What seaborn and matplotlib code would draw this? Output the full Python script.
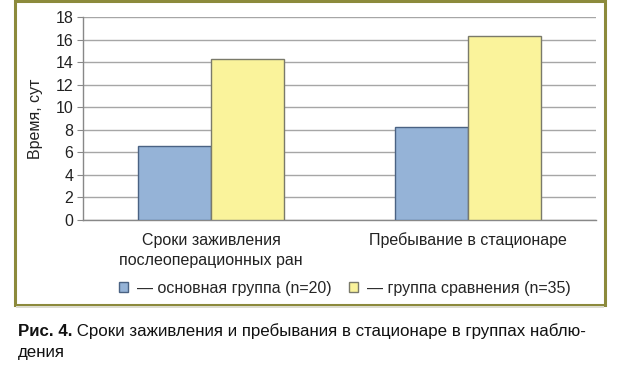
import matplotlib
matplotlib.use("Agg")
import matplotlib.pyplot as plt
from matplotlib.patches import Patch, Rectangle
import pandas as pd
import seaborn as sns

categories = ["Сроки заживления\nпослеоперационных ран", "Пребывание в стационаре"]
groups = ["— основная группа (n=20)", "— группа сравнения (n=35)"]
main_group = [6.6, 8.3]
compare_group = [14.3, 16.3]
y_ticks = [0, 2, 4, 6, 8, 10, 12, 14, 16, 18]
y_label = "Время, сут"
caption_bold = "Рис. 4."
caption_line1 = " Сроки заживления и пребывания в стационаре в группах наблю-"
caption_line2 = "дения"

colors = ["#95B3D7", "#FAF39B"]
edges = ["#4A6283", "#7A7A6A"]
fs = 11.5

df = pd.DataFrame({
    "cat": categories * 2,
    "group": [groups[0]] * 2 + [groups[1]] * 2,
    "value": main_group + compare_group,
})

sns.set_style("white")
plt.rcParams["font.family"] = ["Liberation Sans", "DejaVu Sans"]

fig = plt.figure(figsize=(6.25, 3.78), dpi=100)
ax = fig.add_axes([83 / 625, 1 - 220 / 378, (596 - 83) / 625, (220 - 17.3) / 378])

sns.barplot(data=df, x="cat", y="value", hue="group", palette=colors,
            width=0.57, ax=ax, legend=False, saturation=1)
for i, cont in enumerate(ax.containers):
    for bar in cont:
        bar.set_edgecolor(edges[i])
        bar.set_linewidth(1.0)
        bar.set_zorder(3)

ax.set_ylim(0, 18)
ax.set_xlim(-0.5, 1.5)
ax.set_yticks(y_ticks)
ax.set_yticklabels([str(t) for t in y_ticks], fontsize=fs, color="#222222")
ax.set_xticks([0, 1])
ax.set_xticklabels(categories, fontsize=fs, color="#222222", linespacing=1.45)
ax.set_xticks([-0.5, 0.5, 1.5], minor=True)
ax.tick_params(axis="x", which="major", length=0, pad=9)
ax.tick_params(axis="x", which="minor", length=4, color="#888888", direction="out")
ax.tick_params(axis="y", length=4, color="#888888", direction="out", pad=3, left=True)
ax.set_xlabel("")
ax.set_ylabel(y_label, fontsize=fs, color="#222222", labelpad=9)
ax.yaxis.grid(True, color="#A6A6A6", linewidth=1.0, zorder=0)
ax.set_axisbelow(True)
for s in ["top", "right"]:
    ax.spines[s].set_visible(False)
for s in ["left", "bottom"]:
    ax.spines[s].set_color("#888888")
    ax.spines[s].set_linewidth(1.0)

handles = [Patch(facecolor=colors[0], edgecolor=edges[0]),
           Patch(facecolor=colors[1], edgecolor=edges[1])]
fig.legend(handles, groups, loc="center", bbox_to_anchor=(0.552, 1 - 288 / 378),
           ncol=2, frameon=False, fontsize=fs, handlelength=0.55, handleheight=0.55,
           handletextpad=0.55, columnspacing=1.1)

# olive frame around the chart area
fig.patches.append(Rectangle((15 / 625, 1 - 305 / 378), (605 - 15) / 625, 304 / 378,
                             transform=fig.transFigure, fill=False,
                             edgecolor="#8C8A3C", linewidth=2.2))
fig.patches.append(Rectangle((16 / 625, 1 - 308 / 378), (604 - 16) / 625, 2 / 378,
                             transform=fig.transFigure, facecolor="#DDDDD0",
                             edgecolor="none"))

cfs = 12.2
t1 = fig.text(18 / 625, 1 - 331 / 378, caption_bold, fontsize=cfs,
              fontweight="bold", va="center", ha="left", color="#111111")
fig.canvas.draw()
bb = t1.get_window_extent()
x2 = bb.x1 / fig.bbox.width
fig.text(x2, 1 - 331 / 378, caption_line1, fontsize=cfs, va="center",
         ha="left", color="#111111")
fig.text(18 / 625, 1 - 352 / 378, caption_line2, fontsize=cfs, va="center",
         ha="left", color="#111111")

fig.savefig("out.png", dpi=100)
